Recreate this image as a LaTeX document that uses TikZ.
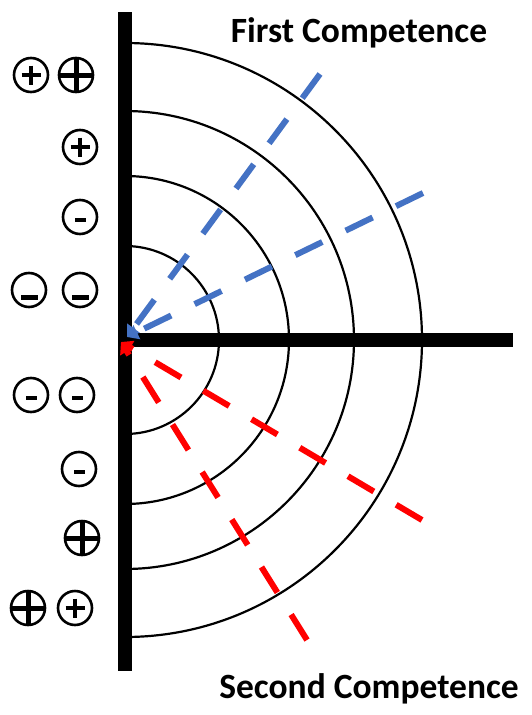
\documentclass[tikz,border=0pt]{standalone}
\usepackage{fontspec}
\setmainfont{Carlito}
\usetikzlibrary{arrows.meta}
\definecolor{cblue}{HTML}{4472C4}
\definecolor{cred}{HTML}{FF0000}
\tikzset{
  bar/.style={line width=14pt, black},
  ring/.style={line width=2.2pt, black},
  bluedash/.style={cblue, line width=6pt, dash pattern=on 30pt off 26pt},
  reddash/.style={cred, line width=6pt, dash pattern=on 30pt off 26pt},
  tipend/.style={-{Triangle[length=11pt,width=15pt]}},
  sym/.style={circle, draw, line width=2.6pt, minimum size=34pt, inner sep=0pt},
  thinbar/.style={line width=3.3pt},
  boldbar/.style={line width=5pt},
  lbl/.style={font=\fontsize{35.5}{40}\selectfont\bfseries, inner sep=0pt},
}
\newcommand{\plusthin}[1]{\draw[thinbar] (#1.center) +(-9.5,0) -- +(9.5,0) (#1.center) +(0,-9.5) -- +(0,9.5);}
\newcommand{\plusbold}[1]{\draw[boldbar] (#1.center) +(-16,0) -- +(16,0) (#1.center) +(0,-16) -- +(0,16);}
\newcommand{\minussmall}[1]{\fill (#1.center) +(-5.5,0.5) rectangle +(5.5,4.5);}
\newcommand{\minuslow}[1]{\fill (#1.center) +(-8.5,4.5) rectangle +(8.5,10);}
\begin{document}
\begin{tikzpicture}[x=1pt,y=-1pt]
\useasboundingbox (0,0) rectangle (532,715);
\coordinate (O) at (125,340);
% rings
\foreach \r in {94,164,229,297}{
  \draw[ring] (125,340-\r) arc[start angle=-90, end angle=90, radius=\r];
}
% bars
\coordinate (vt) at (125,12);
\coordinate (vb) at (125,671);
\coordinate (hr) at (513,340);
\draw[bar] (vt) -- (vb);
\draw[bar] (O) -- (hr);
% dashed rays (drawn from the outer end so a full dash sits at the end)
\coordinate (b1) at (320,74);
\coordinate (b2) at (423,193);
\coordinate (r1) at (422,520);
\coordinate (r2) at (307,640);
\coordinate (ob) at (127,337);
\coordinate (or) at (121,342);
\draw[bluedash, tipend] (b1) -- (ob);
\draw[bluedash, tipend] (b2) -- (ob);
\draw[reddash, tipend] (r1) -- (or);
\draw[reddash, tipend] (r2) -- (or);
% symbols
\node[sym] (s1a) at (31,75) {};  \plusthin{s1a}
\node[sym] (s1b) at (76,75) {};  \plusbold{s1b}
\node[sym] (s2) at (80,147) {};  \plusthin{s2}
\node[sym] (s3) at (80,217) {};  \minussmall{s3}
\node[sym] (s4a) at (29,290) {}; \minuslow{s4a}
\node[sym] (s4b) at (80,290) {}; \minuslow{s4b}
\node[sym] (s5a) at (31,395) {}; \minussmall{s5a}
\node[sym] (s5b) at (77,395) {}; \minussmall{s5b}
\node[sym] (s6) at (79,469) {};  \minussmall{s6}
\node[sym] (s7) at (82,538) {};  \plusbold{s7}
\node[sym] (s8a) at (28,608) {}; \plusbold{s8a}
\node[sym] (s8b) at (75,608) {}; \plusthin{s8b}
% labels
\node[lbl, anchor=base] (first) at (359,42) {First Competence};
\node[lbl, anchor=base] (second) at (369,698) {Second Competence};
\end{tikzpicture}
\end{document}
